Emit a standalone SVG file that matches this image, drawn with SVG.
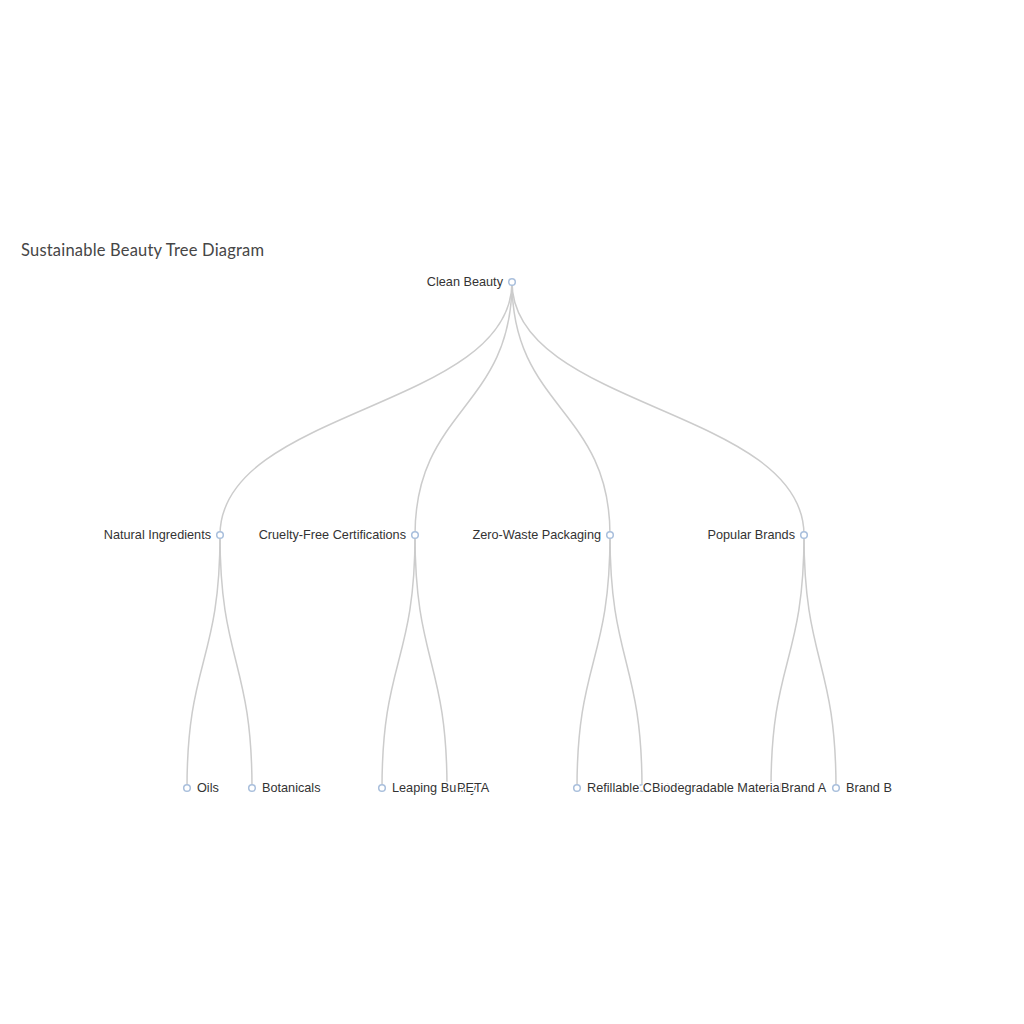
<svg xmlns="http://www.w3.org/2000/svg" width="1024" height="1024" viewBox="0 0 1024 1024">
<style>
.edge{fill:none;stroke:#cccccc;stroke-width:1.5}
.sym{fill:#ffffff;stroke:#a9bfdc;stroke-width:1.5}
.lbl{font-family:"Liberation Sans",Arial,sans-serif;font-size:12.7px;fill:#333333;stroke:#ffffff;stroke-width:3;stroke-linejoin:round;paint-order:stroke}
.l{text-anchor:end}
.title{font-family:Lato,"Liberation Sans",sans-serif;font-size:16.5px;fill:#464646}
</style>
<rect width="1024" height="1024" fill="#ffffff"/>
<text class="title" x="21" y="256" textLength="243" lengthAdjust="spacing">Sustainable Beauty Tree Diagram</text>
<g id="connectors">
<path class="edge" d="M512 282C512 408.5 220 408.5 220 535"/>
<path class="edge" d="M512 282C512 408.5 415 408.5 415 535"/>
<path class="edge" d="M512 282C512 408.5 610 408.5 610 535"/>
<path class="edge" d="M512 282C512 408.5 804 408.5 804 535"/>
<path class="edge" d="M220 535C220 661.5 187 661.5 187 788"/>
<path class="edge" d="M220 535C220 661.5 252 661.5 252 788"/>
<path class="edge" d="M415 535C415 661.5 382 661.5 382 788"/>
<path class="edge" d="M415 535C415 661.5 447 661.5 447 788"/>
<path class="edge" d="M610 535C610 661.5 577 661.5 577 788"/>
<path class="edge" d="M610 535C610 661.5 642 661.5 642 788"/>
<path class="edge" d="M804 535C804 661.5 771 661.5 771 788"/>
<path class="edge" d="M804 535C804 661.5 836 661.5 836 788"/>
</g>
<g id="nodes">
<g id="clean-beauty"><circle class="sym" cx="512" cy="282" r="3.3"/></g>
<g id="natural-ingredients"><circle class="sym" cx="220" cy="535" r="3.3"/></g>
<g id="cruelty-free-certifications"><circle class="sym" cx="415" cy="535" r="3.3"/></g>
<g id="zero-waste-packaging"><circle class="sym" cx="610" cy="535" r="3.3"/></g>
<g id="popular-brands"><circle class="sym" cx="804" cy="535" r="3.3"/></g>
<g id="oils"><circle class="sym" cx="187" cy="788" r="3.3"/></g>
<g id="botanicals"><circle class="sym" cx="252" cy="788" r="3.3"/></g>
<g id="leaping-bunny"><circle class="sym" cx="382" cy="788" r="3.3"/></g>
<g id="peta"><circle class="sym" cx="447" cy="788" r="3.3"/></g>
<g id="refillable-containers"><circle class="sym" cx="577" cy="788" r="3.3"/></g>
<g id="biodegradable-materials"><circle class="sym" cx="642" cy="788" r="3.3"/></g>
<g id="brand-a"><circle class="sym" cx="771" cy="788" r="3.3"/></g>
<g id="brand-b"><circle class="sym" cx="836" cy="788" r="3.3"/></g>
</g>
<g id="labels">
<text id="label-clean-beauty" class="lbl l" x="503" y="286">Clean Beauty</text>
<text id="label-natural-ingredients" class="lbl l" x="211" y="539">Natural Ingredients</text>
<text id="label-cruelty-free" class="lbl l" x="406" y="539">Cruelty-Free Certifications</text>
<text id="label-zero-waste" class="lbl l" x="601" y="539">Zero-Waste Packaging</text>
<text id="label-popular-brands" class="lbl l" x="795" y="539">Popular Brands</text>
<text id="label-oils" class="lbl" x="197" y="792">Oils</text>
<text id="label-botanicals" class="lbl" x="262" y="792">Botanicals</text>
<text id="label-leaping-bunny" class="lbl" x="392" y="792">Leaping Bunny</text>
<text id="label-peta" class="lbl" x="457" y="792">PETA</text>
<text id="label-refillable" class="lbl" x="587" y="792">Refillable Containers</text>
<text id="label-biodegradable" class="lbl" x="652" y="792">Biodegradable Materials</text>
<text id="label-brand-a" class="lbl" x="781" y="792">Brand A</text>
<text id="label-brand-b" class="lbl" x="846" y="792">Brand B</text>
</g>
</svg>
